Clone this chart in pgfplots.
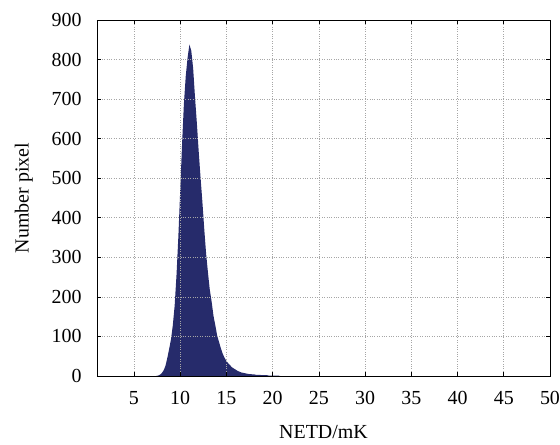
\documentclass[border=0pt]{standalone}
\usepackage{pgfplots}
\pgfplotsset{compat=1.18}
\usepackage{fontspec}
\setmainfont{Liberation Serif}
\definecolor{histnavy}{RGB}{38,43,107}

\begin{document}
\begin{tikzpicture}
\begin{axis}[
    scale only axis,
    width=453bp, height=356bp,
    xmin=1, xmax=50, ymin=0, ymax=900,
    xtick={5,10,...,50},
    ytick={0,100,...,900},
    tick align=inside,
    major tick length=4bp,
    tick style={black, line width=0.6pt},
    axis line style={black, line width=0.8pt},
    grid=major,
    grid style={dotted, gray!70, line width=0.6pt},
    axis on top,
    /pgf/number format/assume math mode=true,
    ticklabel style={font=\fontsize{20}{24}\selectfont},
    label style={font=\fontsize{20}{24}\selectfont},
    xticklabel shift=12bp,
    yticklabel shift=12bp,
    xlabel={NETD/mK},
    ylabel={Number pixel},
    xlabel style={yshift=-14bp},
    ylabel style={yshift=12bp},
  ]
  \addplot[fill=histnavy, draw=none] coordinates {
    (7.4,0) (7.6,1) (7.8,3) (8.0,7) (8.2,14) (8.4,25) (8.6,45) (8.8,68)
    (9.0,92) (9.2,128) (9.4,178) (9.6,255) (9.8,352) (10.0,468) (10.2,585)
    (10.4,688) (10.6,758) (10.8,805) (11.0,838) (11.2,822) (11.4,778)
    (11.6,705) (11.8,640) (12.0,568) (12.2,502) (12.4,440) (12.6,372)
    (12.8,310) (13.0,262) (13.2,218) (13.4,188) (13.6,152) (13.8,128)
    (14.0,102) (14.2,86) (14.4,70) (14.6,56) (14.8,46) (15.0,38) (15.2,32)
    (15.4,27) (15.6,22) (15.8,19) (16.0,16) (16.2,13) (16.4,11) (16.6,9)
    (16.8,8) (17.0,7) (17.2,6) (17.4,5) (17.6,5) (17.8,4) (18.0,4)
    (18.2,3) (18.4,3) (18.6,3) (18.8,2) (19.0,2) (19.2,2) (19.4,2)
    (19.6,1) (19.8,1) (20.0,1) (20.2,1) (20.4,1) (20.6,1) (20.8,0)
  } \closedcycle;
\end{axis}
\pgfresetboundingbox
\path (current axis.south west) ++(-97bp,-69bp) coordinate (bl);
\path (current axis.north east) ++(10bp,20bp) coordinate (tr);
\path[use as bounding box] (bl) rectangle (tr);
\end{tikzpicture}
\end{document}
